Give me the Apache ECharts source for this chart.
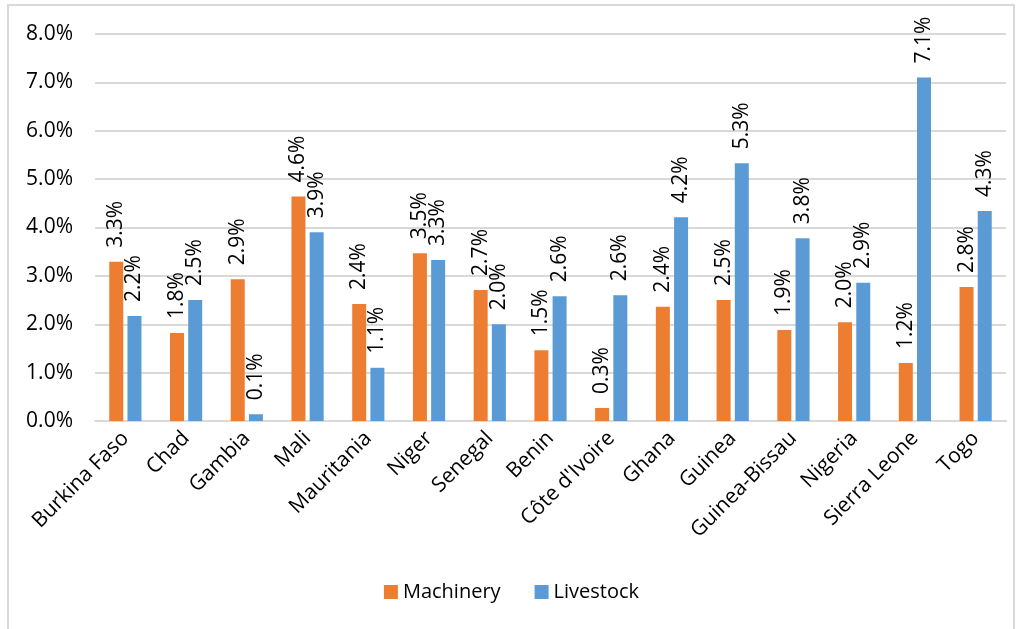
<!DOCTYPE html>
<html>
<head>
<meta charset="utf-8">
<script src="https://cdn.jsdelivr.net/npm/echarts@6/dist/echarts.min.js"></script>
<style>
  html, body { margin: 0; padding: 0; background: #fff; }
  #frame { position: absolute; left: 7px; top: 4px; width: 1008px; height: 630px; border: 2px solid #D9D9D9; box-sizing: border-box; }
  #chart { position: absolute; left: 0; top: 0; width: 1023px; height: 629px; }
</style>
</head>
<body>
<div id="frame"></div>
<div id="chart"></div>
<script>
// 国家分类与两组数据（百分比）
const countries = ["Burkina Faso", "Chad", "Gambia", "Mali", "Mauritania", "Niger", "Senegal", "Benin",
  "Côte d'Ivoire", "Ghana", "Guinea", "Guinea-Bissau", "Nigeria", "Sierra Leone", "Togo"];
const machinery = [3.29, 1.82, 2.93, 4.64, 2.42, 3.47, 2.71, 1.46, 0.27, 2.36, 2.5, 1.88, 2.04, 1.2, 2.77];
const livestock = [2.17, 2.5, 0.14, 3.9, 1.1, 3.33, 2.0, 2.58, 2.6, 4.21, 5.33, 3.78, 2.86, 7.1, 4.34];

const fontFamily = "'Open Sans', 'Noto Sans', sans-serif";

function barLabel() {
  return {
    show: true,
    position: "top",
    rotate: 90,
    align: "left",
    verticalAlign: "middle",
    distance: 14,
    color: "#000",
    fontSize: 21,
    fontFamily: fontFamily,
    formatter: function (p) { return p.value.toFixed(1) + "%"; }
  };
}

const chart = echarts.init(document.getElementById("chart"));
chart.setOption({
  animation: false,
  textStyle: { fontFamily: fontFamily },
  grid: { left: 95, right: 17, top: 34, bottom: 208 },
  legend: {
    bottom: 22,
    left: "center",
    itemWidth: 14,
    itemHeight: 14,
    itemGap: 34,
    icon: "rect",
    textStyle: { fontSize: 20, color: "#000", fontFamily: fontFamily },
    data: ["Machinery", "Livestock"]
  },
  xAxis: {
    type: "category",
    data: countries,
    axisTick: { show: false },
    axisLine: { lineStyle: { color: "#D9D9D9", width: 2 } },
    axisLabel: { rotate: 45, color: "#000", fontSize: 21, margin: 14, interval: 0, fontFamily: fontFamily }
  },
  yAxis: {
    type: "value",
    min: 0,
    max: 8,
    interval: 1,
    axisLine: { show: false },
    axisTick: { show: false },
    splitLine: { lineStyle: { color: "#D9D9D9", width: 2 } },
    axisLabel: {
      color: "#000",
      fontSize: 21,
      margin: 22,
      fontFamily: fontFamily,
      formatter: function (v) { return v.toFixed(1) + "%"; }
    }
  },
  series: [
    {
      name: "Machinery",
      type: "bar",
      data: machinery,
      barWidth: 14,
      barGap: "30%",
      itemStyle: { color: "#ED7D31" },
      label: barLabel()
    },
    {
      name: "Livestock",
      type: "bar",
      data: livestock,
      barWidth: 14,
      itemStyle: { color: "#5B9BD5" },
      label: barLabel()
    }
  ]
});
</script>
</body>
</html>
